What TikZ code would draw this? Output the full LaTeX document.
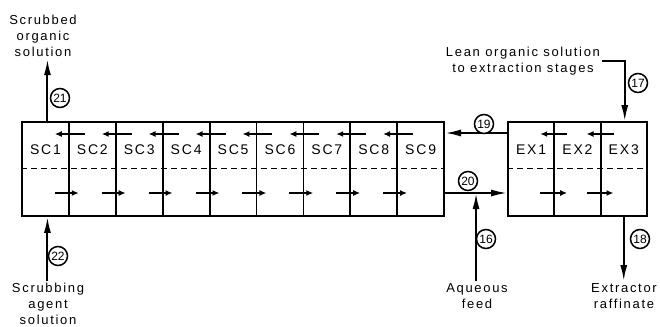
\documentclass[tikz,border=0pt]{standalone}
\usepackage{fontspec}
\setmainfont{Liberation Sans}
\newfontfamily\letfont[LetterSpace=13]{Liberation Sans}
\usetikzlibrary{arrows.meta,positioning,calc}

\begin{document}
\begin{tikzpicture}[
    x=0.5pt, y=-0.5pt,
    stage/.style={draw, line width=0.9pt, minimum width=23.45pt, minimum height=47pt, inner sep=0pt},
    stagename/.style={font=\letfont\fontsize{7}{8}\selectfont, inner sep=0pt},
    note/.style={font=\letfont\fontsize{6.5}{8}\selectfont, align=center, inner sep=1pt},
    tag/.style={draw, circle, fill=white, line width=0.75pt, minimum size=9.5pt, inner sep=0pt, font=\fontsize{6}{6}\selectfont},
    stream/.style={-{Latex[length=8pt, width=3.5pt]}, line width=1pt},
    flow/.style={-{Latex[length=3.5pt, width=3pt]}, line width=0.8pt},
    interface/.style={densely dashed, line width=0.4pt}
]
\useasboundingbox (0,0) rectangle (660,327);

% scrub section
\foreach \i in {1,...,9} {
  \node[stage] (sc\i) at ({45.45+46.9*(\i-1)},169) {};
  \node[stagename] (sc\i name) at ($(sc\i.center)+(0,-19)$) {SC\i};
}
\draw[interface] ($(sc1.west)+(0,-1)$) -- ($(sc9.east)+(0,-1)$);
\foreach \i in {1,...,8} {
  \draw[flow] ($(sc\i.east)+(15,-35)$) -- ($(sc\i.east)+(-15,-35)$);
  \draw[flow] ($(sc\i.east)+(-15,24)$) -- ($(sc\i.east)+(9,24)$);
}

% extraction section
\foreach \i in {1,2,3} {
  \node[stage, minimum width=23.15pt] (ex\i) at ({531.15+46.3*(\i-1)},169) {};
  \node[stagename] (ex\i name) at ($(ex\i.center)+(0,-19)$) {EX\i};
}
\draw[interface] ($(ex1.west)+(0,-1)$) -- ($(ex3.east)+(0,-1)$);
\foreach \i in {1,2} {
  \draw[flow] ($(ex\i.east)+(12,-35)$) -- ($(ex\i.east)+(-15,-35)$);
  \draw[flow] ($(ex\i.east)+(-15,24)$) -- ($(ex\i.east)+(12,24)$);
}

% streams between sections
\draw[stream] ($(ex1.west)+(0,-36)$) -- ($(sc9.east)+(0,-36)$);
\node[tag] (s19) at (484,124) {19};
\draw[stream] ($(sc9.east)+(0,24)$) -- ($(ex1.west)+(0,24)$);
\node[tag] (s20) at (468,181) {20};
\coordinate (feedin) at ($(sc9.east)!0.5!(ex1.west)+(0,24)$);
\node[note] (feed) at (477,296) {Aqueous\\feed};
\draw[stream] (feed.north -| feedin) -- (feedin);
\node[tag] (s16) at (486,239) {16};

% extraction streams
\node[note] (lean) at (523,61) {Lean organic solution\\to extraction stages};
\draw[stream] (lean.east) -| ($(ex3.north)+(1,0)$);
\node[tag] (s17) at (638,83) {17};
\node[note] (raff) at (624,296) {Extractor\\raffinate};
\draw[stream] (ex3.south) -- (ex3.south |- raff.north);
\node[tag] (s18) at (640,239) {18};

% scrub streams
\node[note] (scrubbed) at (43,36) {Scrubbed\\organic\\solution};
\draw[stream] ($(sc1.north)+(2,0)$) coordinate (out21) -- (out21 |- scrubbed.south);
\node[tag] (s21) at (60,98) {21};
\node[note] (agent) at (48,304) {Scrubbing\\agent\\solution};
\draw[stream] (agent.north -| out21) -- ($(sc1.south)+(2,0)$);
\node[tag] (s22) at (58,256) {22};
\end{tikzpicture}
\end{document}
